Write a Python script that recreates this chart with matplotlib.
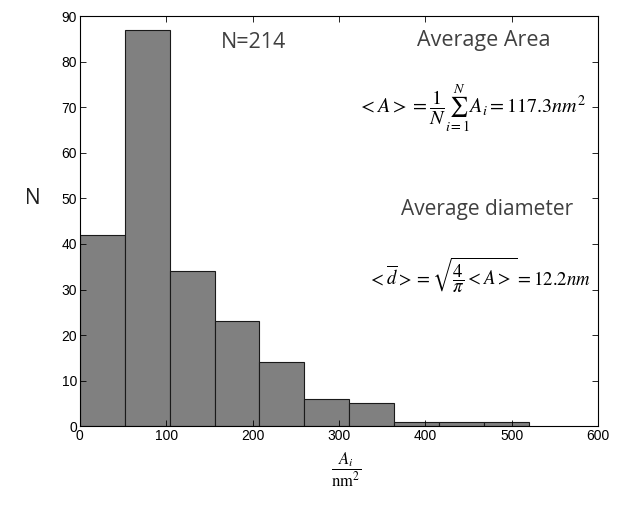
import numpy as np
import matplotlib
matplotlib.use("Agg")
import matplotlib.pyplot as plt

plt.rcParams['mathtext.fontset'] = 'stix'

# histogram of particle areas (bin width ~52 nm^2)
bin_edges = [0, 52, 104, 156, 208, 260, 312, 364, 416, 468, 520]
counts = [42, 87, 34, 23, 14, 6, 5, 1, 1, 1]

fig = plt.figure(figsize=(6.19, 5.05), dpi=100)
ax = fig.add_axes([0.129, 0.156, 0.837, 0.812])

left = np.array(bin_edges[:-1])
widths = np.diff(bin_edges)
ax.bar(left, counts, width=widths, align='edge', color='#808080',
       edgecolor='#1a1a1a', linewidth=0.8)

ax.set_xlim(0, 600)
ax.set_ylim(0, 90)
ax.set_xticks(range(0, 601, 100))
ax.set_yticks(range(0, 91, 10))
ax.tick_params(direction='in', top=True, right=True, length=4, width=0.6,
               labelsize=10, pad=2)
for lab in ax.get_xticklabels() + ax.get_yticklabels():
    lab.set_fontfamily('Liberation Sans')
for s in ax.spines.values():
    s.set_linewidth(0.8)

grey = '#404040'
ax.text(0.335, 0.935, 'N=214', transform=ax.transAxes, fontsize=15.5,
        family='Open Sans', color=grey, ha='center', va='center')
ax.text(0.779, 0.94, 'Average Area', transform=ax.transAxes, fontsize=15.5,
        family='Open Sans', color=grey, ha='center', va='center')
ax.text(0.757, 0.775, r'$<A>=\dfrac{1}{N}\sum_{i=1}^{N}A_i=117.3nm^2$',
        transform=ax.transAxes, fontsize=14.5, ha='center', va='center')
ax.text(0.786, 0.529, 'Average diameter', transform=ax.transAxes, fontsize=15,
        family='Open Sans', color=grey, ha='center', va='center')
ax.text(0.772, 0.37, r'$<\overline{d}>=\sqrt{\dfrac{4}{\pi}<A>}=12.2nm$',
        transform=ax.transAxes, fontsize=13.5, ha='center', va='center')

fig.text(33 / 619, 1 - 199 / 505, 'N', fontsize=15, family='Open Sans',
         color='#202020', ha='center', va='center')
fig.text(346 / 619, 1 - 470 / 505, r'$\dfrac{A_i}{\mathrm{nm}^2}$',
         fontsize=12, ha='center', va='center')

fig.savefig('out.png', dpi=100)
